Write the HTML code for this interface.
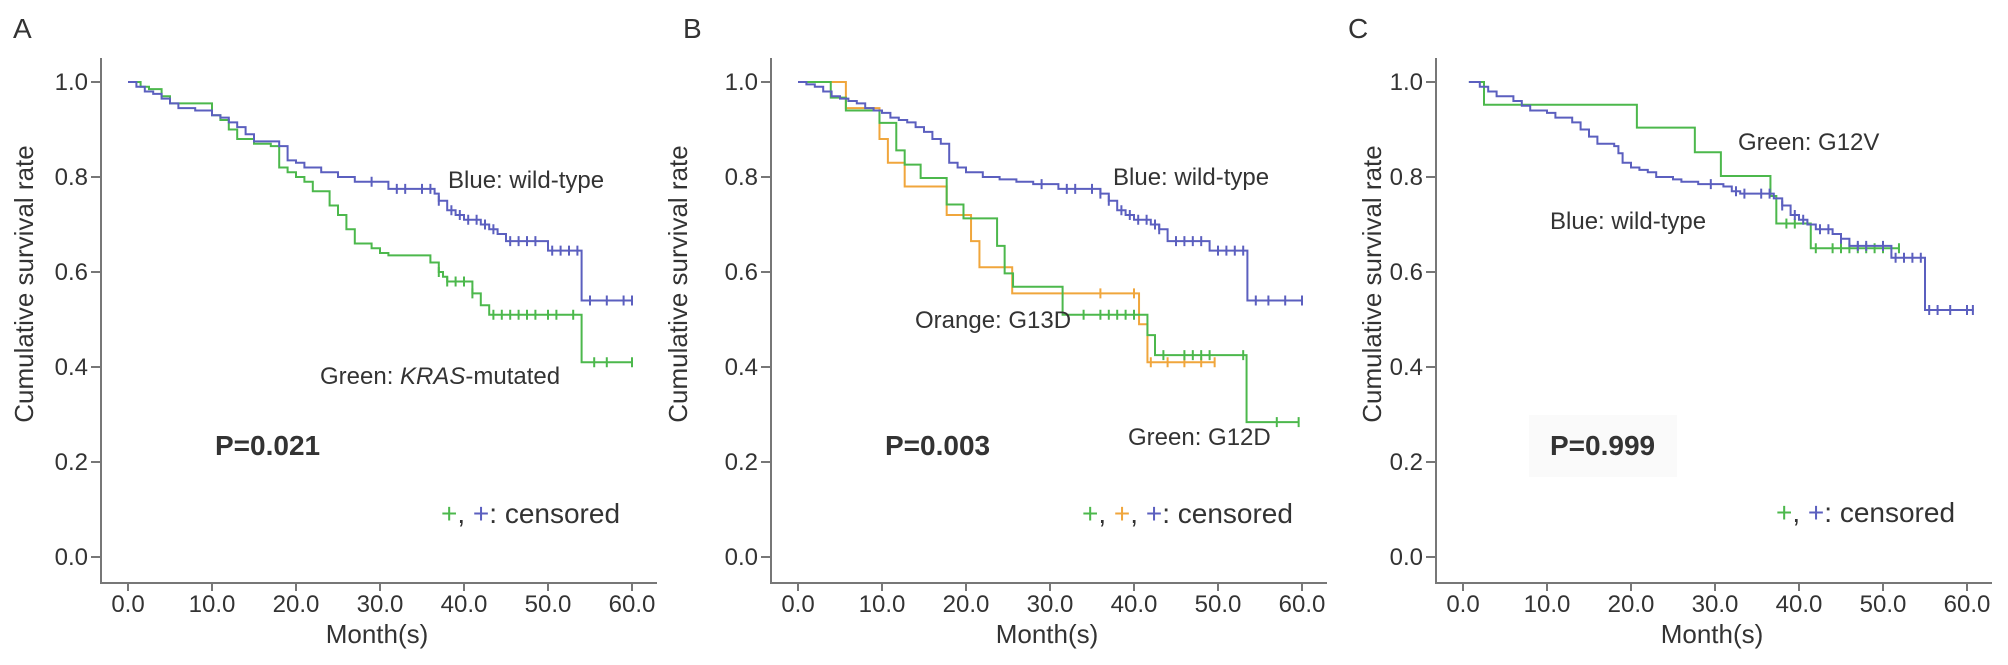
<!DOCTYPE html>
<html><head><meta charset="utf-8"><style>
html,body{margin:0;padding:0;background:#fff;}
svg{display:block;font-family:"Liberation Sans",Arial,sans-serif;}
text{fill:#333;}
</style></head><body>
<svg id="chart" width="2008" height="665" viewBox="0 0 2008 665"></svg>
<script>
const xTicks = [0,10,20,30,40,50,60];
const xTickLabels = ["0.0","10.0","20.0","30.0","40.0","50.0","60.0"];
const yTicks = [0,0.2,0.4,0.6,0.8,1.0];
const yTickLabels = ["0.0","0.2","0.4","0.6","0.8","1.0"];

// Panel A
const aBlueT = [1,2,3,4,5,6,8,10,11,12,13,14,15,18,19,20,21,23,25,27,31,36.5,37,38,39,40,42,43,44,45,50,54];
const aBlueS = [.99,.98,.975,.965,.955,.945,.94,.93,.925,.915,.905,.89,.875,.865,.835,.83,.82,.81,.80,.79,.775,.765,.75,.73,.72,.71,.70,.69,.68,.665,.645,.54];
const aBlueCens = [29,32,33,35,36,37,38.5,39.5,40.5,41.5,42.5,43.5,45.5,46.5,47.5,48.5,50.5,51.5,52.5,53.5,55,57,59,60];
const aGreenT = [1.5,2.5,4,5,10,11,12,13,15,17,18,19,20,21,22,24,25,26,27,29,30,31,36,37,37.5,38,41,42,43,54];
const aGreenS = [.99,.985,.97,.955,.93,.92,.90,.88,.87,.865,.82,.81,.80,.79,.77,.74,.72,.69,.66,.65,.64,.635,.62,.60,.59,.58,.555,.53,.51,.41];
const aGreenCens = [37,38,39,40,41,43.5,44.5,45.5,46.5,47.5,48.5,50,51,53,55.5,57,60];

// Panel B
const bBlueT = [1,2,3,4,5,6,7,8,9,10,11,12,13,14,15,16,17,18,19,20,22,24,26,28,31,36,37,38,39,40,42,43,44,49,53.5];
const bBlueS = [.995,.99,.98,.97,.965,.96,.955,.945,.94,.935,.925,.92,.915,.905,.895,.88,.87,.83,.82,.81,.80,.795,.79,.785,.775,.765,.75,.73,.72,.71,.70,.69,.665,.645,.54];
const bBlueCens = [29,32,33,35,36,37,38.5,39.5,40.5,41.5,42.5,43,45,46,47,48,50,51,52,53,54.5,56,58,60];
const bOrangeT = [5.7,9.7,10.7,12.7,17.7,20.6,21.6,25.5,40.6,41.6];
const bOrangeS = [.945,.88,.83,.78,.72,.665,.61,.555,.49,.41];
const bOrangeCens = [36,40,42,44,46,48,49.6];
const bGreenT = [3.9,5.7,9.7,11.7,12.7,14.6,17.7,19.7,23.7,24.6,25.6,31.5,41.6,42.5,53.4];
const bGreenS = [.967,.94,.914,.856,.826,.798,.742,.713,.655,.597,.569,.51,.467,.425,.284];
const bGreenCens = [34,36,37,38,39,40,43.5,46,47,48,49,53,57,59.6];

// Panel C
const cBlueT = [2,3,4,6,7,8,10,11,13,14,15,16,18,18.5,19,20,21,22,23,25,26,28,31,32,33,37,38,39,40,41,42,44,45,46,51,55];
const cBlueS = [.99,.98,.97,.96,.95,.94,.935,.925,.915,.90,.885,.87,.865,.85,.83,.82,.815,.81,.80,.795,.79,.785,.78,.77,.765,.755,.74,.72,.71,.70,.69,.68,.67,.655,.63,.52];
const cBlueCens = [29.5,32.5,33.5,35.5,36.5,38,39.5,40.5,42.5,43.5,45,47,48,50,51.5,52.5,53.5,54.5,55.5,56.5,58,60,60.7];
const cGreenT = [2.5,20.7,27.6,30.7,36.6,37.3,41.4];
const cGreenS = [.952,.904,.852,.802,.76,.702,.65];
const cGreenCens = [38.5,39.5,42,44,45,46,47,48,49,50,51.9];

const BLUE="#5b5fbf", GREEN="#4cb84c", ORANGE="#f0a63c";
const svg=document.getElementById('chart');
const NS="http://www.w3.org/2000/svg";
function mk(tag,attrs,parent){const e=document.createElementNS(NS,tag);for(const k in attrs)e.setAttribute(k,attrs[k]);(parent||svg).appendChild(e);return e;}
function txt(str,x,y,size,anchor,parent,weight){const t=mk('text',{x:x,y:y,'font-size':size,'text-anchor':anchor||'start'},parent);if(weight)t.setAttribute('font-weight',weight);t.textContent=str;return t;}

const Y0=557, YH=475, PXM=8.4;
function yS(v){return Y0-YH*v;}

function panel(ox,letter,name){
  const g=mk('g',{});
  
  
  const xS=t=>ox+128+PXM*t;
  const ax=mk('path',{d:`M${ox+101},58 V583 H${ox+657}`,stroke:'#777','stroke-width':2,fill:'none'},g);
  
  
  yTicks.forEach((v,i)=>{
    mk('line',{x1:ox+91,x2:ox+101,y1:yS(v),y2:yS(v),stroke:'#777','stroke-width':2},g);
    const t=txt(yTickLabels[i],ox+88,yS(v)+8,24,'end',g);
    
    
  });
  xTicks.forEach((v,i)=>{
    mk('line',{x1:xS(v),x2:xS(v),y1:583,y2:591,stroke:'#777','stroke-width':2},g);
    const t=txt(xTickLabels[i],xS(v),612,24,'middle',g);
    
    
  });
  const lt=txt(letter,ox+13,38,28,'start',g);
  
  
  const xl=txt('Month(s)',ox+377,643,26,'middle',g);
  
  
  return {g,xS};
}

function curve(p,T,S,end,cens,color,name,start){
  let d=`M${p.xS(start||0)},${yS(1)}`;
  for(let i=0;i<T.length;i++){d+=` H${p.xS(T[i])} V${yS(S[i])}`;}
  d+=` H${p.xS(end)}`;
  const path=mk('path',{d:d,stroke:color,'stroke-width':2,fill:'none'},p.g);
  
  
  cens.forEach(t=>{
    let s=1;for(let i=0;i<T.length;i++){if(T[i]<=t)s=S[i];}
    const m=mk('line',{x1:p.xS(t),x2:p.xS(t),y1:yS(s)-5,y2:yS(s)+5,stroke:color,'stroke-width':2},p.g);
    
    
  });
}

function ylabel(p,x){
  const t=mk('text',{x:x,y:284,'font-size':26,'text-anchor':'middle',transform:`rotate(-90 ${x} 284)`},p.g);
  t.textContent='Cumulative survival rate';
  
  
}
function note(p,str,x,y,size,name,weight){
  const t=txt(str,x,y,size,'start',p.g,weight);
  
  
  return t;
}
function legend(p,x,y,colors){
  const t=mk('text',{x:x,y:y,'font-size':28},p.g);
  
  
  colors.forEach((c,i)=>{
    const s=mk('tspan',{fill:c},t);s.textContent='+';
    const s2=mk('tspan',{},t);s2.textContent=i<colors.length-1?',  ':': censored';
  });
}

// A
const pA=panel(0,'A','panel-a');
ylabel(pA,33);
curve(pA,aGreenT,aGreenS,60,aGreenCens,GREEN,'green-kras-mutated');
curve(pA,aBlueT,aBlueS,60,aBlueCens,BLUE,'blue-wild-type');
note(pA,'Blue: wild-type',448,188,24,'label-blue-wild-type');
const gk=note(pA,'',320,384,24,'label-green-kras');
gk.innerHTML='Green: <tspan font-style="italic">KRAS</tspan>-mutated';
note(pA,'P=0.021',215,455,28,'p-value','bold');
legend(pA,441,523,[GREEN,BLUE]);

// B
const pB=panel(670,'B','panel-b');
ylabel(pB,687);
curve(pB,bOrangeT,bOrangeS,49.6,bOrangeCens,ORANGE,'orange-g13d');
curve(pB,bGreenT,bGreenS,59.6,bGreenCens,GREEN,'green-g12d');
curve(pB,bBlueT,bBlueS,60,bBlueCens,BLUE,'blue-wild-type');
note(pB,'Blue: wild-type',1113,185,24,'label-blue-wild-type');
note(pB,'Orange: G13D',915,328,24,'label-orange-g13d');
note(pB,'Green: G12D',1128,445,24,'label-green-g12d');
note(pB,'P=0.003',885,455,28,'p-value','bold');
legend(pB,1082,523,[GREEN,ORANGE,BLUE]);

// C
const pC=panel(1335,'C','panel-c');
const bg=mk('rect',{x:1529,y:415,width:148,height:62,fill:'#fafafa'},pC.g);


ylabel(pC,1381);
curve(pC,cGreenT,cGreenS,51.9,cGreenCens,GREEN,'green-g12v',0.7);
curve(pC,cBlueT,cBlueS,60.8,cBlueCens,BLUE,'blue-wild-type',0.7);
note(pC,'Green: G12V',1738,150,24,'label-green-g12v');
note(pC,'Blue: wild-type',1550,229,24,'label-blue-wild-type');
note(pC,'P=0.999',1550,455,28,'p-value','bold');
legend(pC,1776,522,[GREEN,BLUE]);
</script>
</body></html>
